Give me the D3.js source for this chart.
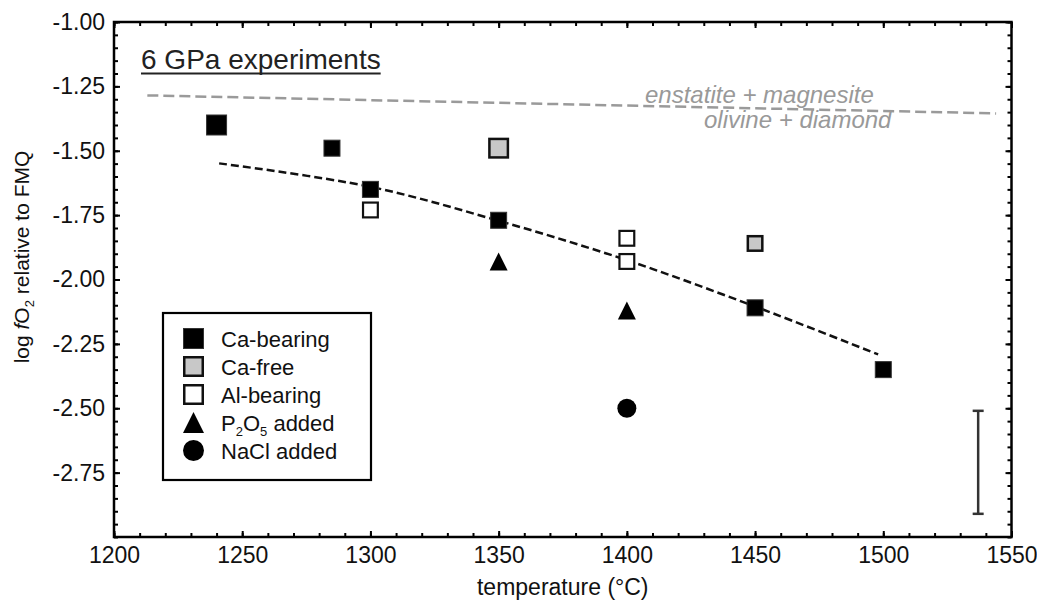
<!DOCTYPE html>
<html>
<head>
<meta charset="utf-8">
<script src="https://cdn.jsdelivr.net/npm/d3@7"></script>
<style>
  body { margin: 0; background: #fff; }
  text { font-family: "Liberation Sans", Arial, sans-serif; }
</style>
</head>
<body>
<script>
// 6 GPa experiments: log fO2 (relative to FMQ) vs temperature

const caBearingT = [1240, 1285, 1300, 1350, 1450, 1500]
const caBearingV = [-1.40, -1.49, -1.65, -1.77, -2.11, -2.35]

const caFreeT = [1350, 1450]
const caFreeV = [-1.49, -1.86]

const alBearingT = [1300, 1400, 1400]
const alBearingV = [-1.73, -1.84, -1.93]

const p2o5T = [1350, 1400]
const p2o5V = [-1.93, -2.12]

const naclT = [1400]
const naclV = [-2.50]

// dashed trend through the Ca-bearing runs
const fitT = [1241, 1300, 1350, 1400, 1450, 1498]
const fitV = [-1.549, -1.640, -1.772, -1.925, -2.105, -2.291]

// enstatite + magnesite = olivine + diamond (EMOD)
const emodT = [1213, 1544]
const emodV = [-1.285, -1.355]

// typical uncertainty
const errT = 1537
const errMid = -2.71
const errHalf = 0.2

const xTicks = [1200, 1250, 1300, 1350, 1400, 1450, 1500, 1550]
const yTicks = [-1.00, -1.25, -1.50, -1.75, -2.00, -2.25, -2.50, -2.75]

const legendLabels = ['Ca-bearing', 'Ca-free', 'Al-bearing', 'P2O5 added', 'NaCl added']

const width = 1037
const height = 604
const margin = {top: 22, right: 25.5, bottom: 67, left: 114}

const svg = d3.select('body')
    .append('svg')
    .attr('width', width)
    .attr('height', height)

const x = d3.scaleLinear()
    .domain([1200, 1550])
    .range([margin.left, width - margin.right])

const y = d3.scaleLinear()
    .domain([-3, -1])
    .range([height - margin.bottom, margin.top])

const x0 = margin.left, x1 = width - margin.right
const y0 = margin.top, y1 = height - margin.bottom

// ---- axes, ticks point inward on all four sides
const xMinor = d3.range(1200, 1551, 10)
const yMinor = d3.range(0, 41).map(i => -3 + i * 0.05)

function styleAxis(g) {
    g.select('.domain').remove()
    g.selectAll('.tick line').attr('stroke', '#000').attr('stroke-width', 2)
    g.selectAll('.tick text')
        .attr('fill', '#111')
        .style('font-size', '23px')
}

svg.append('g')
    .attr('transform', `translate(0, ${y1})`)
    .call(d3.axisBottom(x).tickValues(xMinor).tickSize(-4).tickFormat(''))
    .call(styleAxis)
svg.append('g')
    .attr('transform', `translate(0, ${y1})`)
    .call(d3.axisBottom(x).tickValues(xTicks).tickSizeInner(-6).tickSizeOuter(0)
        .tickPadding(10).tickFormat(d => d))
    .call(styleAxis)

svg.append('g')
    .attr('transform', `translate(0, ${y0})`)
    .call(d3.axisTop(x).tickValues(xMinor).tickSize(-4).tickFormat(''))
    .call(styleAxis)
svg.append('g')
    .attr('transform', `translate(0, ${y0})`)
    .call(d3.axisTop(x).tickValues(xTicks).tickSize(-6).tickFormat(''))
    .call(styleAxis)

svg.append('g')
    .attr('transform', `translate(${x0}, 0)`)
    .call(d3.axisLeft(y).tickValues(yMinor).tickSize(-4).tickFormat(''))
    .call(styleAxis)
svg.append('g')
    .attr('transform', `translate(${x0}, 0)`)
    .call(d3.axisLeft(y).tickValues(yTicks).tickSizeInner(-6).tickSizeOuter(0)
        .tickPadding(9).tickFormat(d => d.toFixed(2)))
    .call(styleAxis)

svg.append('g')
    .attr('transform', `translate(${x1}, 0)`)
    .call(d3.axisRight(y).tickValues(yMinor).tickSize(-4).tickFormat(''))
    .call(styleAxis)
svg.append('g')
    .attr('transform', `translate(${x1}, 0)`)
    .call(d3.axisRight(y).tickValues(yTicks).tickSize(-6).tickFormat(''))
    .call(styleAxis)

svg.append('rect')
    .attr('x', x0)
    .attr('y', y0)
    .attr('width', x1 - x0)
    .attr('height', y1 - y0)
    .attr('fill', 'none')
    .attr('stroke', '#000')
    .attr('stroke-width', 2.5)

// axis titles
svg.append('text')
    .attr('x', (x0 + x1) / 2)
    .attr('y', 595)
    .attr('text-anchor', 'middle')
    .style('font-size', '23px')
    .attr('fill', '#111')
    .text('temperature (°C)')

const yTitle = svg.append('text')
    .attr('transform', `translate(29, 257) rotate(-90)`)
    .attr('text-anchor', 'middle')
    .style('font-size', '21px')
    .attr('fill', '#111')
yTitle.append('tspan').text('log ')
yTitle.append('tspan').style('font-style', 'italic').text('f')
yTitle.append('tspan').text('O')
yTitle.append('tspan').attr('dy', 5).style('font-size', '13px').text('2')
yTitle.append('tspan').attr('dy', -5).text(' relative to FMQ')

// ---- lines
const line = d3.line()
    .x(d => x(d[0]))
    .y(d => y(d[1]))

svg.append('path')
    .datum(d3.zip(emodT, emodV))
    .attr('d', line)
    .attr('fill', 'none')
    .attr('stroke', '#9a9a9a')
    .attr('stroke-width', 2.5)
    .attr('stroke-dasharray', '11,5')

svg.append('path')
    .datum(d3.zip(fitT, fitV))
    .attr('d', line.curve(d3.curveCatmullRom))
    .attr('fill', 'none')
    .attr('stroke', '#111')
    .attr('stroke-width', 2.5)
    .attr('stroke-dasharray', '8,4')

svg.append('text')
    .attr('x', 645)
    .attr('y', 102.5)
    .style('font-size', '24px')
    .style('font-style', 'italic')
    .attr('fill', '#999')
    .text('enstatite + magnesite')

svg.append('text')
    .attr('x', 704)
    .attr('y', 128)
    .style('font-size', '24px')
    .style('font-style', 'italic')
    .attr('fill', '#999')
    .text('olivine + diamond')

svg.append('text')
    .attr('x', 141)
    .attr('y', 69)
    .style('font-size', '28px')
    .attr('fill', '#222')
    .text('6 GPa experiments')
    .each(function () {
        const len = this.getComputedTextLength()
        svg.append('line')
            .attr('x1', 141).attr('x2', 141 + len)
            .attr('y1', 73.5).attr('y2', 73.5)
            .attr('stroke', '#222')
            .attr('stroke-width', 1.8)
    })

// ---- markers
const NORMAL = 17
const LARGE = 21
const largeMarkers = {caBearing: [0], caFree: [0]}

function squareAt(g, cx, cy, size, fill, stroke, sw) {
    const s = size - sw
    g.append('rect')
        .attr('x', cx - s / 2)
        .attr('y', cy - s / 2)
        .attr('width', s)
        .attr('height', s)
        .attr('fill', fill)
        .attr('stroke', stroke)
        .attr('stroke-width', sw)
}

function triangleAt(g, cx, cy, size) {
    const h = size
    const w = size
    g.append('path')
        .attr('d', `M${cx},${cy - h / 2}L${cx + w / 2},${cy + h / 2}L${cx - w / 2},${cy + h / 2}Z`)
        .attr('fill', '#000')
}

function circleAt(g, cx, cy, size) {
    g.append('circle')
        .attr('cx', cx).attr('cy', cy).attr('r', size / 2)
        .attr('fill', '#000')
}

const pts = svg.append('g')

d3.zip(caBearingT, caBearingV).forEach((d, i) => {
    const s = largeMarkers.caBearing.includes(i) ? LARGE : NORMAL
    squareAt(pts, x(d[0]), y(d[1]), s, '#000', '#333', 1)
})
d3.zip(caFreeT, caFreeV).forEach((d, i) => {
    const s = largeMarkers.caFree.includes(i) ? LARGE : NORMAL
    squareAt(pts, x(d[0]), y(d[1]), s, '#c8c8c8', '#111', 2.5)
})
d3.zip(alBearingT, alBearingV).forEach(d => {
    squareAt(pts, x(d[0]), y(d[1]), NORMAL, '#fff', '#111', 2.2)
})
d3.zip(p2o5T, p2o5V).forEach(d => triangleAt(pts, x(d[0]), y(d[1]), 18))
d3.zip(naclT, naclV).forEach(d => circleAt(pts, x(d[0]), y(d[1]), 19))

// error bar
const err = svg.append('g').attr('stroke', '#333').attr('stroke-width', 2.5)
err.append('line')
    .attr('x1', x(errT)).attr('x2', x(errT))
    .attr('y1', y(errMid + errHalf)).attr('y2', y(errMid - errHalf))
err.selectAll('.cap')
    .data([errMid + errHalf, errMid - errHalf])
    .join('line')
    .attr('x1', x(errT) - 5.5).attr('x2', x(errT) + 5.5)
    .attr('y1', d => y(d)).attr('y2', d => y(d))

// ---- legend
const legend = svg.append('g')
legend.append('rect')
    .attr('x', 163).attr('y', 313)
    .attr('width', 208).attr('height', 167)
    .attr('fill', '#fff')
    .attr('stroke', '#000')
    .attr('stroke-width', 2.2)

const legX = 193.5
const legY0 = 338.5
const legStep = 28

legendLabels.forEach((label, i) => {
    const cy = legY0 + i * legStep
    if (i === 0) squareAt(legend, legX, cy, LARGE, '#000', '#333', 1)
    if (i === 1) squareAt(legend, legX, cy, LARGE, '#c8c8c8', '#111', 2.5)
    if (i === 2) squareAt(legend, legX, cy, LARGE, '#fff', '#111', 2.5)
    if (i === 3) triangleAt(legend, legX, cy, 21)
    if (i === 4) circleAt(legend, legX, cy, 21)

    const t = legend.append('text')
        .attr('x', 221)
        .attr('y', cy + 8)
        .style('font-size', '22px')
        .attr('fill', '#111')
    if (label === 'P2O5 added') {
        t.append('tspan').text('P')
        t.append('tspan').attr('dy', 5).style('font-size', '13px').text('2')
        t.append('tspan').attr('dy', -5).text('O')
        t.append('tspan').attr('dy', 5).style('font-size', '13px').text('5')
        t.append('tspan').attr('dy', -5).text(' added')
    } else {
        t.text(label)
    }
})
</script>
</body>
</html>
